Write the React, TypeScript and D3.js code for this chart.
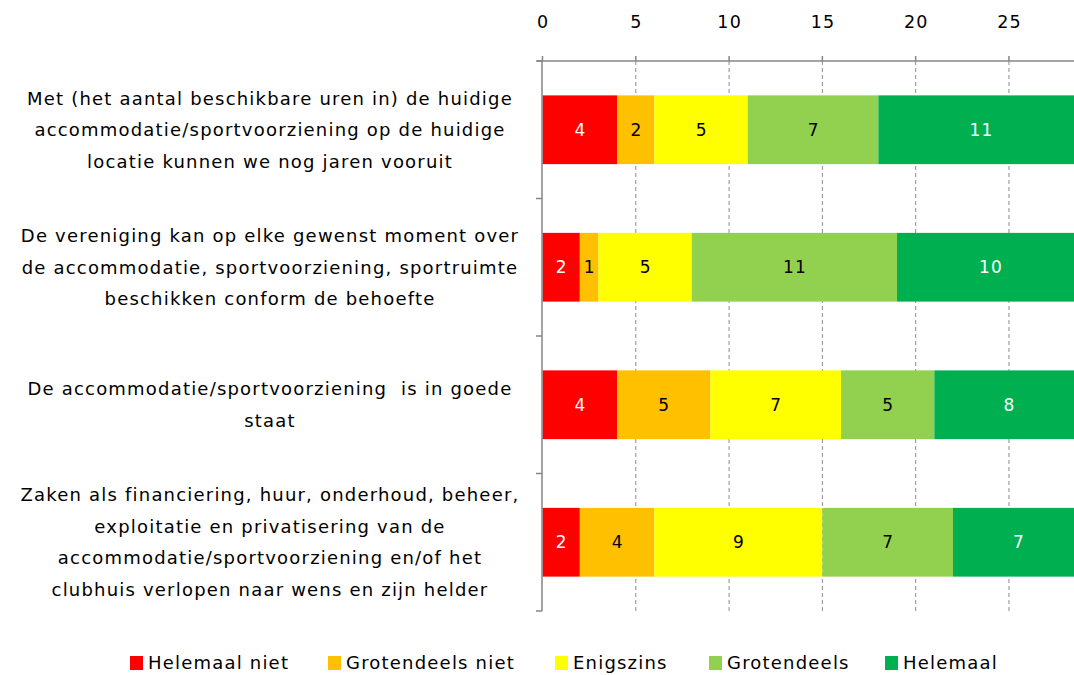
import React from 'react';
import * as d3 from 'd3';

const categories = [
  ['Met (het aantal beschikbare uren in) de huidige', 'accommodatie/sportvoorziening op de huidige', 'locatie kunnen we nog jaren vooruit'],
  ['De vereniging kan op elke gewenst moment over', 'de accommodatie, sportvoorziening, sportruimte', 'beschikken conform de behoefte'],
  ['De accommodatie/sportvoorziening  is in goede', 'staat'],
  ['Zaken als financiering, huur, onderhoud, beheer,', 'exploitatie en privatisering van de', 'accommodatie/sportvoorziening en/of het', 'clubhuis verlopen naar wens en zijn helder'],
];
const seriesNames = ['Helemaal niet', 'Grotendeels niet', 'Enigszins', 'Grotendeels', 'Helemaal'];
const helemaalNiet = [4, 2, 4, 2];
const grotendeelsNiet = [2, 1, 5, 4];
const enigszins = [5, 5, 7, 9];
const grotendeels = [7, 11, 5, 7];
const helemaal = [11, 10, 8, 7];
const xTicks = [0, 5, 10, 15, 20, 25];

const colors = ['#FF0000', '#FFC000', '#FFFF00', '#92D050', '#00B050'];
const labelColors = ['#fff', '#000', '#000', '#000', '#fff'];

const W = 1074;
const H = 675;
const font = '"DejaVu Sans", Verdana, sans-serif';
const ls = 1.2;

export default function App() {
  const series = [helemaalNiet, grotendeelsNiet, enigszins, grotendeels, helemaal];
  const rows = categories.map((c, i) => {
    const o: any = { idx: i };
    seriesNames.forEach((s, j) => (o[s] = series[j][i]));
    return o;
  });
  const stacked = d3.stack().keys(seriesNames)(rows);

  const x = d3.scaleLinear().domain([0, 29]).range([542.5, 1083.6]);
  const y = d3
    .scaleBand()
    .domain(categories.map((d, i) => String(i)))
    .range([61, 611])
    .paddingInner(0.5)
    .paddingOuter(0.25);
  const step = y.step();
  const bounds = d3.range(categories.length + 1).map((i) => 61 + i * step);

  return (
    <svg width={W} height={H} style={{ position: 'absolute', left: 0, top: 0 }} fontFamily={font} letterSpacing={ls}>
      <rect width={W} height={H} fill="#fff" />
      {/* gridlines */}
      {xTicks.slice(1).map((t) => (
        <line key={t} x1={x(t)} x2={x(t)} y1={61} y2={611} stroke="#8c8c8c" strokeWidth={1} strokeDasharray="4,3" />
      ))}
      {/* bars */}
      {stacked.map((s, j) => (
        <g key={s.key} fill={colors[j]}>
          {s.map((d, i) => (
            <rect key={i} x={x(d[0])} y={y(String(i))} width={x(d[1]) - x(d[0])} height={y.bandwidth()} />
          ))}
        </g>
      ))}
      {stacked.map((s, j) => (
        <g key={'l' + s.key} fill={labelColors[j]} fontSize={17} textAnchor="middle">
          {s.map((d, i) => (
            <text key={i} x={(x(d[0]) + x(d[1])) / 2 + ls / 2} y={y(String(i))! + y.bandwidth() / 2} dy="0.35em">
              {d[1] - d[0]}
            </text>
          ))}
        </g>
      ))}
      {/* axes */}
      <line x1={537} x2={W} y1={61} y2={61} stroke="#868686" strokeWidth={1.5} />
      <line x1={542} x2={542} y1={61} y2={611} stroke="#868686" strokeWidth={1.5} />
      {bounds.map((b, i) => (
        <line key={i} x1={536} x2={542} y1={b} y2={b} stroke="#868686" strokeWidth={1.5} />
      ))}
      {xTicks.map((t) => (
        <g key={t}>
          <line x1={x(t)} x2={x(t)} y1={56} y2={61} stroke="#868686" strokeWidth={1.5} />
          <text x={x(t) + ls / 2} y={22} dy="0.35em" textAnchor="middle" fontSize={17.5} fill="#000">
            {t}
          </text>
        </g>
      ))}
      {/* category labels */}
      {categories.map((lines, i) => {
        const cy = y(String(i))! + y.bandwidth() / 2;
        const lh = 31.5;
        const top = cy - ((lines.length - 1) * lh) / 2;
        return (
          <g key={i} textAnchor="middle" fontSize={18} fill="#000">
            {lines.map((l, k) => (
              <text key={k} x={270} y={top + k * lh} dy="0.35em" style={{ whiteSpace: 'pre' }}>
                {l}
              </text>
            ))}
          </g>
        );
      })}
      {/* legend */}
      {seriesNames.map((s, j) => {
        const lx = [130, 328, 555, 709, 885][j];
        return (
          <g key={s}>
            <rect x={lx} y={656} width={13} height={14} fill={colors[j]} />
            <text x={lx + 18} y={663} dy="0.35em" fontSize={18} fill="#000">
              {s}
            </text>
          </g>
        );
      })}
    </svg>
  );
}
